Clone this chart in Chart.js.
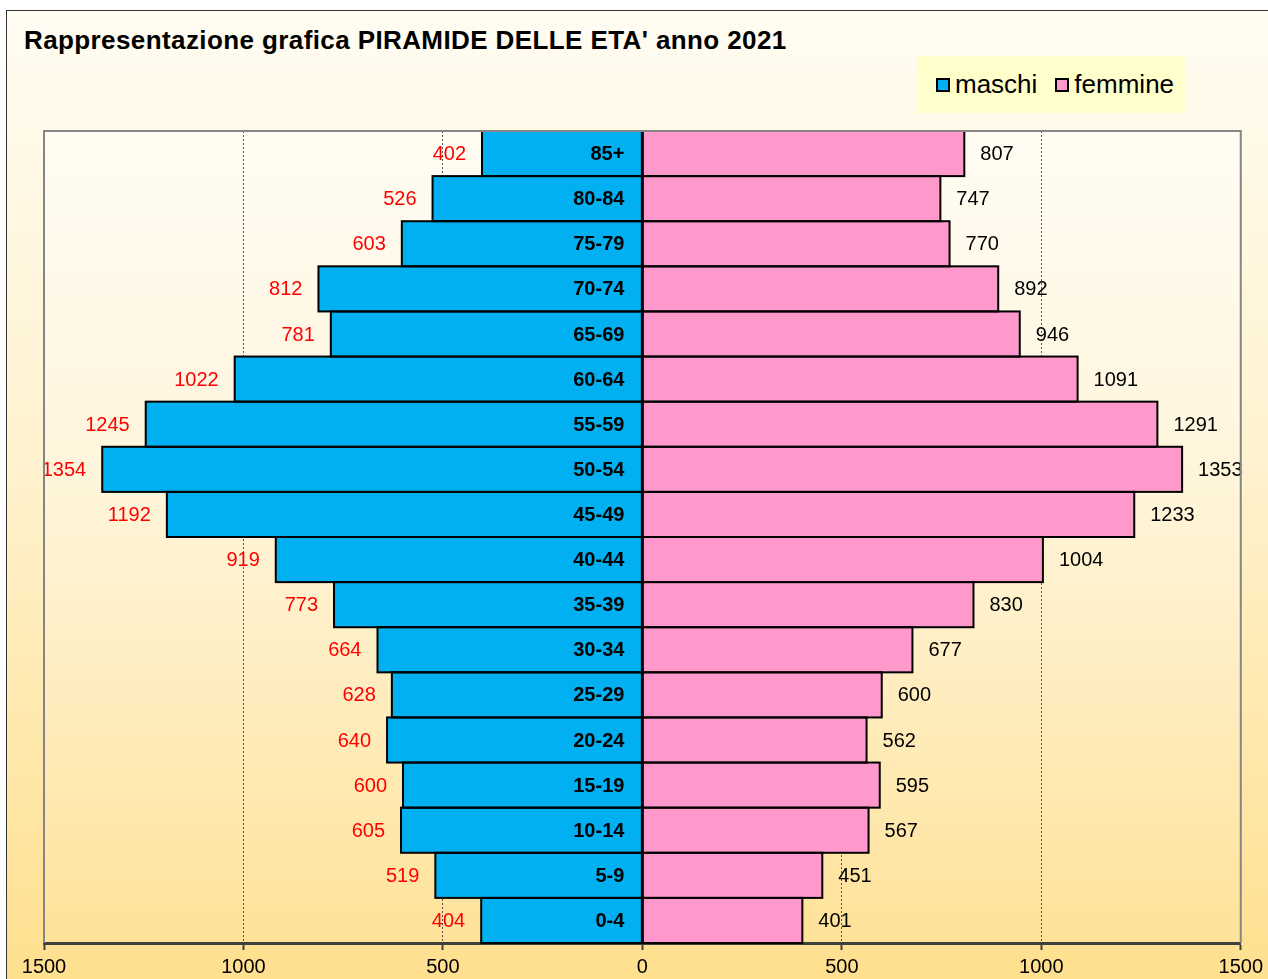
<!DOCTYPE html>
<html>
<head>
<meta charset="utf-8">
<script src="https://cdn.jsdelivr.net/npm/chart.js@4.4.1/dist/chart.umd.min.js"></script>
<style>
    html, body { margin: 0; padding: 0; background: #fff; }
    body { width: 1268px; height: 979px; position: relative; overflow: hidden; font-family: "Liberation Sans", Arial, sans-serif; }
    #frame {
        position: absolute; left: 6px; top: 10px; width: 1280px; height: 990px;
        border-top: 1px solid #333; border-left: 1px solid #333;
        background: linear-gradient(to bottom, #fffcf2 0%, #fff2cf 45%, #ffdf8c 100%);
    }
    #title {
        position: absolute; left: 24px; top: 25px; font-size: 26px; font-weight: bold; color: #000;
        letter-spacing: 0.4px;
    }
    #legend {
        position: absolute; left: 917px; top: 56px; width: 269px; height: 57px; background: #ffffcc;
        display: flex; align-items: center; padding-left: 19px; box-sizing: border-box; font-size: 26px;
    }
    #legend .item { display: flex; align-items: center; margin-right: 18px; }
    #legend .box { width: 10px; height: 10px; border: 2px solid #000; margin-right: 5px; }
    #chartBox { position: absolute; left: 0; top: 0; width: 1268px; height: 979px; }
</style>
</head>
<body>
<div id="frame"></div>
<div id="title">Rappresentazione grafica PIRAMIDE DELLE ETA' anno 2021</div>
<div id="legend"></div>
<div id="chartBox"><canvas id="pyramid" width="1268" height="979"></canvas></div>
<script>
// fasce d'età, dall'alto verso il basso
const ageGroups = ['85+', '80-84', '75-79', '70-74', '65-69', '60-64', '55-59', '50-54', '45-49',
    '40-44', '35-39', '30-34', '25-29', '20-24', '15-19', '10-14', '5-9', '0-4'];
const maschi = [402, 526, 603, 812, 781, 1022, 1245, 1354, 1192, 919, 773, 664, 628, 640, 600, 605, 519, 404];
const femmine = [807, 747, 770, 892, 946, 1091, 1291, 1353, 1233, 1004, 830, 677, 600, 562, 595, 567, 451, 401];
const xTicks = [-1500, -1000, -500, 0, 500, 1000, 1500];

const FONT = '"Liberation Sans", Arial, sans-serif';

// sfondo leggermente più chiaro nell'area del grafico + bordo
const plotArea = {
    id: 'plotArea',
    beforeDraw(chart) {
        const { ctx, chartArea: a } = chart;
        const g = ctx.createLinearGradient(0, a.top, 0, a.bottom);
        g.addColorStop(0, 'rgba(255,255,255,0.45)');
        g.addColorStop(1, 'rgba(255,255,255,0.05)');
        ctx.save();
        ctx.fillStyle = g;
        ctx.fillRect(a.left, a.top, a.right - a.left, a.bottom - a.top);
        ctx.restore();
    },
    afterDraw(chart) {
        const { ctx, chartArea: a } = chart;
        ctx.save();
        ctx.strokeStyle = '#858585';
        ctx.lineWidth = 2;
        ctx.beginPath();
        ctx.moveTo(a.left, a.bottom);
        ctx.lineTo(a.left, a.top);
        ctx.lineTo(a.right, a.top);
        ctx.lineTo(a.right, a.bottom);
        ctx.stroke();
        ctx.restore();
    }
};

// bordi delle barre (centrati, come in Excel) ed etichette
const barLabels = {
    id: 'barLabels',
    afterDatasetsDraw(chart) {
        const { ctx } = chart;
        const xs = chart.scales.x;
        ctx.save();
        ctx.strokeStyle = '#000';
        ctx.lineWidth = 2;
        chart.data.datasets.forEach((ds, di) => {
            chart.getDatasetMeta(di).data.forEach(bar => {
                const p = bar.getProps(['x', 'y', 'base', 'height'], true);
                const l = Math.min(p.x, p.base), r = Math.max(p.x, p.base);
                ctx.strokeRect(l, p.y - p.height / 2, r - l, p.height);
            });
        });

        ctx.textBaseline = 'middle';
        const zero = xs.getPixelForValue(0);
        chart.getDatasetMeta(0).data.forEach((bar, i) => {
            const y = bar.y + 1;
            ctx.font = 'bold 20px ' + FONT;
            ctx.fillStyle = '#000';
            ctx.textAlign = 'right';
            ctx.fillText(ageGroups[i], zero - 18, y);

            ctx.font = '20px ' + FONT;
            ctx.fillStyle = '#ff0000';
            ctx.fillText(String(maschi[i]), xs.getPixelForValue(-maschi[i]) - 16, y);

            ctx.fillStyle = '#000';
            ctx.textAlign = 'left';
            ctx.fillText(String(femmine[i]), xs.getPixelForValue(femmine[i]) + 16, y);
        });
        ctx.restore();
    }
};

const series = [
    { label: 'maschi', data: maschi.map(v => -v), color: '#00b0f0' },
    { label: 'femmine', data: femmine, color: '#ff99cc' }
];

new Chart(document.getElementById('pyramid'), {
    type: 'bar',
    data: {
        labels: ageGroups,
        datasets: series.map(s => ({
            label: s.label,
            data: s.data,
            backgroundColor: s.color,
            borderWidth: 0,
            categoryPercentage: 1,
            barPercentage: 1
        }))
    },
    options: {
        indexAxis: 'y',
        responsive: false,
        animation: false,
        layout: { padding: { left: 44, right: 27, top: 131, bottom: 0 } },
        plugins: {
            legend: { display: false },
            title: { display: false },
            tooltip: { enabled: false }
        },
        scales: {
            x: {
                stacked: true,
                min: -1500,
                max: 1500,
                afterBuildTicks(scale) {
                    scale.ticks = xTicks.map(v => ({ value: v }));
                },
                afterFit(scale) { scale.height = 36; },
                ticks: {
                    color: '#000',
                    font: { family: FONT, size: 20 },
                    padding: 5,
                    maxRotation: 0,
                    callback: v => String(Math.abs(v))
                },
                grid: {
                    color: ctx => (Math.abs(ctx.tick.value) === 500 || Math.abs(ctx.tick.value) === 1000) ? '#555' : 'rgba(0,0,0,0)',
                    lineWidth: 1,
                    tickColor: '#404040',
                    tickLength: 7,
                    tickWidth: 2
                },
                border: { display: true, color: '#404040', width: 3, dash: [2, 2] }
            },
            y: {
                stacked: true,
                display: false
            }
        }
    },
    plugins: [plotArea, barLabels]
});

// legenda
const legend = document.getElementById('legend');
series.forEach(s => {
    const it = document.createElement('div');
    it.className = 'item';
    it.innerHTML = '<span class="box" style="background:' + s.color + '"></span>' + s.label;
    legend.appendChild(it);
});
</script>
</body>
</html>
